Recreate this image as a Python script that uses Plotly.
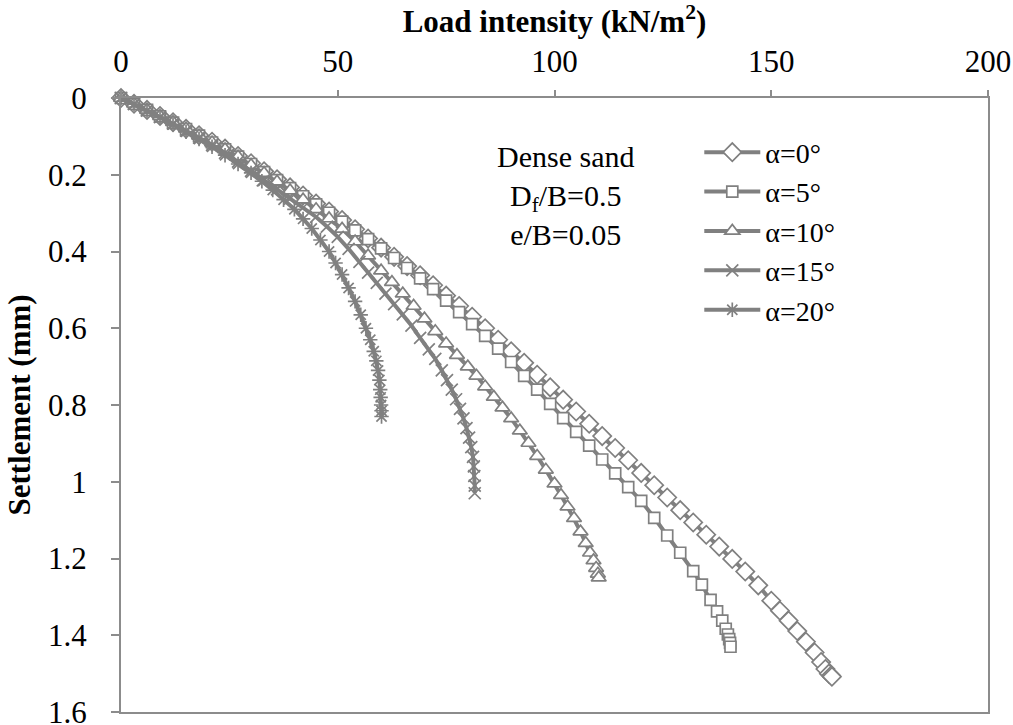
import plotly.graph_objects as go

# Load intensity (kN/m^2) and settlement (mm) for each inclination angle
load_a0 = [0, 3, 6, 9, 12, 15, 18, 21, 24, 27, 30, 33, 36, 39, 42, 45, 48, 51, 54, 57,
           60, 63, 66, 69, 72, 75, 78, 81, 84, 87, 90, 93, 96, 99, 102, 105, 108, 111,
           114, 117, 120, 123, 126, 129, 132, 135, 138, 141, 144, 147, 150, 152, 154,
           156, 158, 160, 161.5, 162.5, 163.3, 163.8, 164]
settle_a0 = [0, 0.015, 0.031, 0.047, 0.063, 0.080, 0.097, 0.114, 0.132, 0.151, 0.170,
             0.191, 0.212, 0.233, 0.254, 0.275, 0.296, 0.318, 0.342, 0.366, 0.390, 0.414,
             0.438, 0.462, 0.488, 0.515, 0.542, 0.570, 0.600, 0.630, 0.660, 0.690, 0.721,
             0.754, 0.786, 0.817, 0.849, 0.881, 0.912, 0.944, 0.977, 1.009, 1.041, 1.074,
             1.106, 1.138, 1.169, 1.201, 1.234, 1.270, 1.310, 1.336, 1.362, 1.389, 1.417,
             1.445, 1.470, 1.488, 1.500, 1.505, 1.508]

load_a5 = [0, 3, 6, 9, 12, 15, 18, 21, 24, 27, 30, 33, 36, 39, 42, 45, 48, 51, 54, 57,
           60, 63, 66, 69, 72, 75, 78, 81, 84, 87, 90, 93, 96, 99, 102, 105, 108, 111,
           114, 117, 120, 123, 126, 129, 132, 134, 136, 137.5, 138.7, 139.5, 140, 140.3,
           140.5, 140.6]
settle_a5 = [0, 0.015, 0.031, 0.048, 0.064, 0.081, 0.098, 0.116, 0.134, 0.153, 0.172,
             0.193, 0.214, 0.235, 0.256, 0.277, 0.299, 0.322, 0.345, 0.368, 0.392, 0.417,
             0.443, 0.470, 0.498, 0.528, 0.558, 0.589, 0.620, 0.653, 0.688, 0.724, 0.760,
             0.797, 0.834, 0.870, 0.906, 0.942, 0.978, 1.014, 1.050, 1.094, 1.140, 1.185,
             1.233, 1.268, 1.308, 1.338, 1.362, 1.383, 1.398, 1.410, 1.420, 1.430]

load_a10 = [0, 3, 6, 9, 12, 15, 18, 21, 24, 27, 30, 33, 36, 39, 42, 45, 48, 51, 54, 57,
            60, 62.5, 65, 67.5, 70, 72.5, 75, 77.5, 80, 82, 84, 86, 88, 90, 92, 94, 96,
            98, 100, 101.5, 103, 104.5, 106, 107.2, 108.2, 109, 109.6, 110, 110.2]
settle_a10 = [0, 0.015, 0.031, 0.047, 0.063, 0.080, 0.098, 0.116, 0.134, 0.153, 0.175,
              0.196, 0.218, 0.241, 0.265, 0.290, 0.314, 0.341, 0.374, 0.411, 0.450, 0.480,
              0.510, 0.542, 0.575, 0.608, 0.640, 0.670, 0.700, 0.724, 0.752, 0.779, 0.807,
              0.835, 0.867, 0.899, 0.933, 0.969, 1.005, 1.035, 1.065, 1.095, 1.130, 1.160,
              1.185, 1.205, 1.225, 1.240, 1.250]

load_a15 = [0, 3, 6, 9, 12, 15, 18, 21, 24, 27, 30, 33, 36, 39, 42, 45, 47.5, 50, 52.5,
            55, 57, 59, 61, 63, 65, 67, 69, 71, 72.5, 74, 75.2, 76.3, 77.3, 78.2, 79,
            79.7, 80.3, 80.8, 81.2, 81.4, 81.5, 81.6, 81.6]
settle_a15 = [0, 0.016, 0.033, 0.050, 0.067, 0.085, 0.103, 0.122, 0.143, 0.166, 0.190,
              0.214, 0.238, 0.262, 0.286, 0.310, 0.335, 0.362, 0.393, 0.427, 0.455, 0.482,
              0.510, 0.537, 0.564, 0.593, 0.625, 0.655, 0.680, 0.710, 0.735, 0.760, 0.785,
              0.810, 0.835, 0.860, 0.885, 0.910, 0.935, 0.960, 0.985, 1.010, 1.030]

load_a20 = [0, 3, 6, 9, 12, 15, 18, 21, 24, 27, 30, 32.5, 35, 37.5, 40, 42, 44, 46, 48,
            49.5, 51, 52.5, 54, 55.3, 56.5, 57.5, 58.3, 58.9, 59.3, 59.6, 59.8, 59.9, 60,
            60.1, 60.1]
settle_a20 = [0, 0.016, 0.033, 0.050, 0.069, 0.088, 0.107, 0.127, 0.149, 0.172, 0.195,
              0.217, 0.240, 0.265, 0.290, 0.315, 0.340, 0.370, 0.400, 0.430, 0.460, 0.495,
              0.530, 0.565, 0.600, 0.630, 0.660, 0.685, 0.710, 0.735, 0.760, 0.780, 0.800,
              0.815, 0.830]

series_names = ["α=0°", "α=5°", "α=10°", "α=15°", "α=20°"]
x_ticks = [0, 50, 100, 150, 200]
y_ticks = [0, 0.2, 0.4, 0.6, 0.8, 1, 1.2, 1.4, 1.6]

GRAY = "#808080"
AXIS = "#8c8c8c"
FONT = "Liberation Serif"

series = [
    (load_a0, settle_a0, "diamond", 14, "white"),
    (load_a5, settle_a5, "square", 11, "white"),
    (load_a10, settle_a10, "triangle-up", 13, "white"),
    (load_a15, settle_a15, "x-thin-open", 12, GRAY),
    (load_a20, settle_a20, "asterisk-open", 12, GRAY),
]

fig = go.Figure()
for name, (xs, ys, sym, size, fill) in zip(series_names, series):
    fig.add_trace(go.Scatter(
        x=xs, y=ys, name=name, mode="lines+markers",
        line=dict(color=GRAY, width=4),
        marker=dict(symbol=sym, size=size, color=fill,
                    line=dict(color=GRAY, width=1.7)),
        cliponaxis=False,
    ))

# Test conditions text block
fig.add_annotation(
    x=102.5, y=0.104, xref="x", yref="y",
    text="Dense sand<br>D<sub>f</sub>/B=0.5<br>e/B=0.05",
    showarrow=False, align="center", xanchor="center", yanchor="top",
    font=dict(family=FONT, size=30, color="black"),
)

fig.update_layout(
    width=1013, height=725,
    margin=dict(l=121, r=25, t=98, b=13),
    paper_bgcolor="white", plot_bgcolor="white",
    font=dict(family=FONT, size=31, color="black"),
    showlegend=True,
    legend=dict(x=0.667, y=0.952, xanchor="left", yanchor="top",
                bgcolor="rgba(0,0,0,0)", itemwidth=56,
                font=dict(family=FONT, size=28, color="black"),
                tracegroupgap=0),
    xaxis=dict(
        side="top", range=[0, 200], tickvals=x_ticks,
        ticks="outside", ticklen=6, tickwidth=1.5, tickcolor=AXIS,
        showline=True, linecolor=AXIS, linewidth=2, mirror=True,
        showgrid=False, zeroline=False, ticklabelstandoff=6,
        ticklabeloverflow="allow", automargin=False,
        tickfont=dict(family=FONT, size=31, color="black"),
        title=dict(text="<b>Load intensity (kN/m<sup>2</sup>)</b>",
                   font=dict(family=FONT, size=31, color="black"), standoff=4),
    ),
    yaxis=dict(
        range=[1.6, 0], tickvals=y_ticks,
        ticks="outside", ticklen=8, tickwidth=1.5, tickcolor=AXIS,
        showline=True, linecolor=AXIS, linewidth=2, mirror=True,
        showgrid=False, zeroline=False, ticklabelstandoff=18,
        ticklabeloverflow="allow", automargin=False,
        tickfont=dict(family=FONT, size=31, color="black"),
        title=dict(text="<b>Settlement (mm)</b>",
                   font=dict(family=FONT, size=31, color="black"), standoff=8),
    ),
)

fig.write_html("out.html")
